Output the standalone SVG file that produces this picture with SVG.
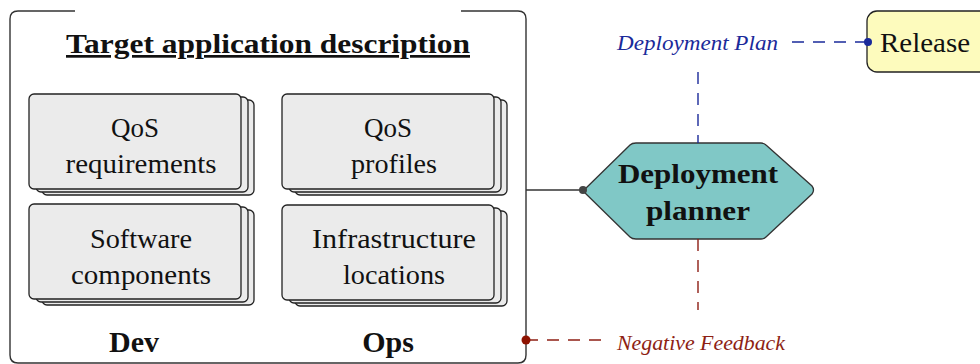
<svg xmlns="http://www.w3.org/2000/svg" width="980" height="364" viewBox="0 0 980 364">
<defs>
<style>
.card{fill:#ebebeb;stroke:#222;stroke-width:1.3}
.t{font-family:"Liberation Serif","DejaVu Serif",serif;fill:#111;text-anchor:middle}
.r{font-size:27px}
.b{font-size:27px;font-weight:bold}
.i{font-family:"Liberation Serif","DejaVu Serif",serif;font-style:italic;font-size:21px}
.frame{fill:none;stroke:#333;stroke-width:1.4}
.blue{stroke:#1a2a9a;stroke-width:1.4;fill:none;stroke-dasharray:12 9}
.red{stroke:#8e1f14;stroke-width:1.4;fill:none;stroke-dasharray:12 9}
</style>
<g id="stack">
<rect class="card" x="13" y="6" width="212" height="95" rx="5"/>
<rect class="card" x="7" y="3" width="212" height="95" rx="5"/>
<rect class="card" x="0" y="0" width="212" height="95" rx="5"/>
</g>
</defs>
<g id="frame">
<path class="frame" d="M75 11 H18 Q10 11 10 19 V355 Q10 363 18 363 H518 Q526 363 526 355 V19 Q526 11 518 11 H461"/>
<text class="t b" x="268" y="53" textLength="404" lengthAdjust="spacingAndGlyphs" style="text-decoration:underline">Target application description</text>
<text class="t b" x="134" y="352" style="font-size:30px">Dev</text>
<text class="t b" x="388" y="352" style="font-size:30px">Ops</text>
</g>
<g id="qos-requirements">
<use href="#stack" x="29" y="94"/>
<text class="t r" x="135" y="137">QoS</text>
<text class="t r" x="141" y="173" textLength="151" lengthAdjust="spacingAndGlyphs">requirements</text>
</g>
<g id="software-components">
<use href="#stack" x="29" y="204"/>
<text class="t r" x="141" y="248" textLength="102" lengthAdjust="spacingAndGlyphs">Software</text>
<text class="t r" x="141" y="284" textLength="140" lengthAdjust="spacingAndGlyphs">components</text>
</g>
<g id="qos-profiles">
<use href="#stack" x="282" y="94"/>
<text class="t r" x="388" y="137">QoS</text>
<text class="t r" x="394" y="173" textLength="86" lengthAdjust="spacingAndGlyphs">profiles</text>
</g>
<g id="infrastructure-locations">
<use href="#stack" x="282" y="205"/>
<text class="t r" x="394" y="248" textLength="164" lengthAdjust="spacingAndGlyphs">Infrastructure</text>
<text class="t r" x="394" y="284" textLength="102" lengthAdjust="spacingAndGlyphs">locations</text>
</g>
<g id="deployment-planner">
<path d="M583 191 L630 145 Q632 143 636 143 H761 Q764 143 766 145 L812 186 Q815 190 812 194 L766 237 Q764 239 761 239 H636 Q632 239 630 237 Z" fill="#80c8c6" stroke="#333" stroke-width="1.3"/>
<text class="t b" x="698" y="183" textLength="160" lengthAdjust="spacingAndGlyphs">Deployment</text>
<text class="t b" x="698" y="220" textLength="104" lengthAdjust="spacingAndGlyphs">planner</text>
</g>
<g id="release">
<rect x="867" y="11" width="130" height="61" rx="10" fill="#fdfbbd" stroke="#222" stroke-width="1.3"/>
<text class="t r" x="925" y="52" textLength="90" lengthAdjust="spacingAndGlyphs">Release</text>
</g>
<g id="connectors">
<line x1="526" y1="190" x2="583" y2="190" stroke="#333" stroke-width="1.3"/>
<circle cx="583" cy="190" r="4" fill="#444"/>
<line class="blue" x1="698" y1="72" x2="698" y2="143" stroke-dasharray="7 12"/>
<line class="blue" x1="792" y1="42" x2="868" y2="42"/>
<circle cx="868" cy="42" r="4" fill="#1a2a9a"/>
<line class="red" x1="698" y1="239" x2="698" y2="310" stroke-dasharray="7 12"/>
<line class="red" x1="526" y1="340" x2="605" y2="340"/>
<circle cx="526" cy="340" r="4.5" fill="#8e1200"/>
<text class="i" x="617" y="50" fill="#1a2a9a" textLength="161" lengthAdjust="spacingAndGlyphs">Deployment Plan</text>
<text class="i" x="617" y="350" fill="#8e1f14" textLength="168" lengthAdjust="spacingAndGlyphs">Negative Feedback</text>
</g>
</svg>
